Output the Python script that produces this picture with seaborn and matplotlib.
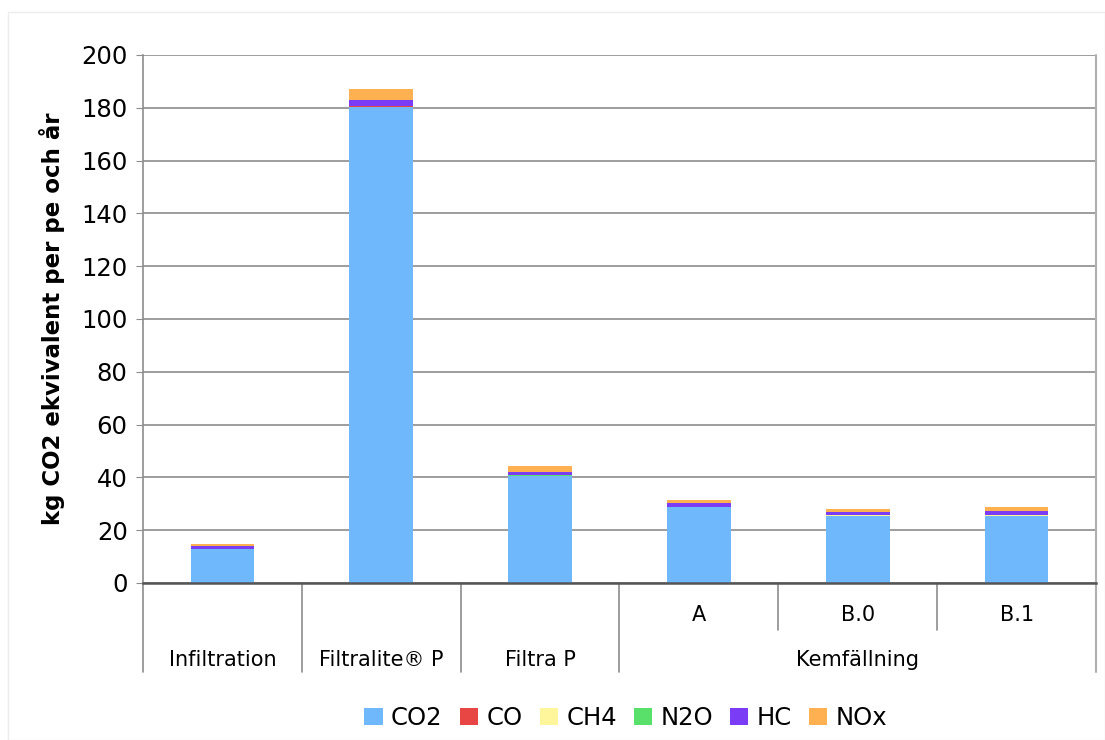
import matplotlib
matplotlib.use("Agg")
import matplotlib.pyplot as plt
import matplotlib.transforms as mtransforms
from matplotlib.patches import Patch, Rectangle
import numpy as np
import seaborn as sns

# Categories (bottom row of the two-level axis and the sub labels)
categories = ["Infiltration", "Filtralite® P", "Filtra P", "A", "B.0", "B.1"]
sub_labels = ["", "", "", "A", "B.0", "B.1"]
group_labels = ["Infiltration", "Filtralite® P", "Filtra P", "Kemfällning"]
group_spans = [(0, 0), (1, 1), (2, 2), (3, 5)]

# Stacked components, kg CO2-ekv per pe och år
co2 = [12.9, 180.4, 40.6, 28.7, 25.5, 25.5]
co = [0.05, 0.1, 0.05, 0.05, 0.05, 0.05]
ch4 = [0.05, 0.1, 0.05, 0.05, 0.05, 0.05]
n2o = [0.05, 0.1, 0.05, 0.05, 0.05, 0.05]
hc = [0.8, 2.4, 1.4, 1.3, 1.3, 1.5]
nox = [1.0, 4.1, 2.1, 1.4, 1.2, 1.6]

series = ["CO2", "CO", "CH4", "N2O", "HC", "NOx"]
values = [co2, co, ch4, n2o, hc, nox]
colors = ["#70b8fc", "#e84545", "#fff59a", "#58e06a", "#7a3cf5", "#ffb050"]

sns.set_style("white")
plt.rcParams["font.family"] = ["DejaVu Sans"]
plt.rcParams["text.color"] = "black"
plt.rcParams["axes.labelcolor"] = "black"
plt.rcParams["ytick.labelcolor"] = "black"

fig = plt.figure(figsize=(11.05, 7.4), dpi=100)
ax = fig.add_axes([143 / 1105, 1 - 583 / 740, (1096 - 143) / 1105, (583 - 55) / 740])

bottom = np.zeros(len(categories))
for name, vals, col in zip(series, values, colors):
    sns.barplot(x=list(range(len(categories))), y=vals, bottom=bottom, color=col,
                width=0.4, ax=ax, saturation=1, linewidth=0, native_scale=True)
    bottom = bottom + np.array(vals)

ax.set_xlim(-0.5, 5.5)
ax.set_ylim(0, 200)
ax.set_yticks(range(0, 201, 20))
ax.yaxis.grid(True, color="#8c8c8c", linewidth=1.2)
ax.set_axisbelow(True)
ax.set_xticks([])
ax.tick_params(axis="y", labelsize=17.5, length=5, color="#8c8c8c", left=True, pad=6,
               labelcolor="black")
ax.set_ylabel("kg CO2 ekvivalent per pe och år", fontsize=16.5, fontweight="bold",
              labelpad=12, color="black")
ax.set_xlabel("")

for side in ["top", "right"]:
    ax.spines[side].set_visible(False)
ax.spines["left"].set_color("#8c8c8c")
ax.spines["left"].set_linewidth(1.2)
ax.spines["bottom"].set_color("#555555")
ax.spines["bottom"].set_linewidth(1.8)

# Two-level category axis below the plot
trans = mtransforms.blended_transform_factory(ax.transData, ax.transAxes)
long_y = -89 / 528
short_y = -47 / 528
for xpos in [-0.5, 0.5, 1.5, 2.5]:
    ax.plot([xpos, xpos], [0, long_y], transform=trans, color="#8c8c8c", lw=1.2, clip_on=False)
for xpos in [3.5, 4.5]:
    ax.plot([xpos, xpos], [0, short_y], transform=trans, color="#8c8c8c", lw=1.2, clip_on=False)
ax.plot([5.5, 5.5], [1, long_y], transform=trans, color="#b0b0b0", lw=1.5, clip_on=False)

for i, lab in enumerate(sub_labels):
    if lab:
        ax.text(i, -32 / 528, lab, transform=trans, ha="center", va="center", fontsize=15)
for lab, (a, b) in zip(group_labels, group_spans):
    ax.text((a + b) / 2, -77 / 528, lab, transform=trans, ha="center", va="center", fontsize=15)

# Legend
handles = [Patch(facecolor=c, edgecolor="none", label=s) for s, c in zip(series, colors)]
fig.legend(handles=handles, loc="center", bbox_to_anchor=(626 / 1105, 1 - 718 / 740),
           ncol=6, frameon=False, fontsize=17.5, handlelength=0.75, handleheight=0.75,
           handletextpad=0.35, columnspacing=0.7)

# light chart border
fig.patches.append(Rectangle((8 / 1105, 0), 1 - 8 / 1105, 1 - 12 / 740, transform=fig.transFigure,
                             fill=False, edgecolor="#ececec", lw=1))

fig.savefig("out.png", dpi=100)
